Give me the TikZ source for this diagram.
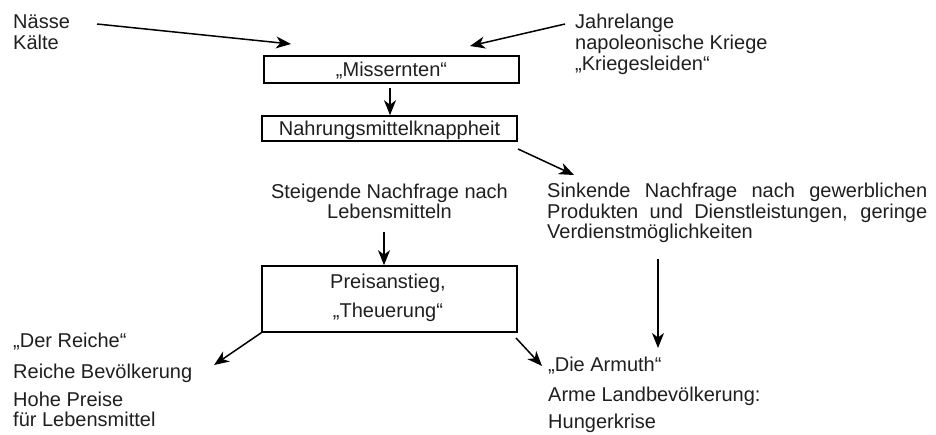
\documentclass[tikz,border=0pt]{standalone}
\usepackage{fontspec}
\setmainfont{Liberation Sans}
\usetikzlibrary{arrows.meta}
\begin{document}
\begin{tikzpicture}[x=1pt,y=-1pt,
  txt/.style={inner sep=0pt, text=black!88, font=\fontsize{20}{21}\selectfont},
  lft/.style={txt, anchor=base west},
  ctr/.style={txt, anchor=base},
  box/.style={draw, line width=1.6pt, inner sep=0pt, minimum width=255pt},
  arr/.style={line width=1.5pt, -{Stealth[length=15pt,width=12pt,inset=4.5pt]}}]
\useasboundingbox (0,0) rectangle (936,434);

% causes
\node[lft] (naesse) at (13,28) {Nässe};
\node[lft] (kaelte) at (13,49) {Kälte};
\node[lft] (jahr)   at (575,28) {Jahrelange};
\node[lft] (napo)   at (575,49) {napoleonische Kriege};
\node[lft] (kriegs) at (575,70) {„Kriegesleiden“};

% boxes
\node[box, txt, text height=20pt, text depth=7pt] (miss) at (391.5,69.5) {„Missernten“};
\node[box, txt, text height=19pt, text depth=6pt] (nahr) at (389.5,128.5) {Nahrungsmittelknappheit};
\node[box, minimum height=66pt] (preis) at (389.5,299) {};
\node[ctr] (preisA) at (388,288) {Preisanstieg,};
\node[ctr] (preisB) at (388,317) {„Theuerung“};

% middle texts
\node[ctr] (steig)  at (389.5,198) {Steigende Nachfrage nach};
\node[ctr] (lebens) at (389.5,218) {Lebensmitteln};
\node[lft] (sinkA) at (547,197) {\makebox[380pt][s]{Sinkende Nachfrage nach gewerblichen}};
\node[lft] (sinkB) at (547,218) {\makebox[380pt][s]{Produkten und Dienstleistungen, geringe}};
\node[lft] (sinkC) at (547,238) {Verdienstmöglichkeiten};

% consequences
\node[lft] (reichA) at (13,347) {„Der Reiche“};
\node[lft] (reichB) at (13,378) {Reiche Bevölkerung};
\node[lft] (reichC) at (13,406) {Hohe Preise};
\node[lft] (reichD) at (13,426) {für Lebensmittel};
\node[lft] (armA) at (548,371) {„Die Armuth“};
\node[lft] (armB) at (548,401) {Arme Landbevölkerung:};
\node[lft] (armC) at (548,428) {Hungerkrise};

% arrow end points
\coordinate (wetS)  at (97,24);
\coordinate (wetE)  at (291,44);
\coordinate (warS)  at (565,24);
\coordinate (warE)  at (470,46);
\coordinate (nahrS) at (518,149);
\coordinate (sinkE) at (574,175);
\coordinate (steigS) at (384,232);
\coordinate (verdS) at (658,259);
\coordinate (armE)  at (658,348);
\coordinate (reichE) at (214,365);
\coordinate (preisS) at (516,338);
\coordinate (armL)  at (542,366);

% connectors
\draw[arr] (wetS) -- (wetE);
\draw[arr] (warS) -- (warE);
\draw[arr] ([xshift=-1.5pt,yshift=-4pt]miss.south) -- ([xshift=0.5pt]nahr.north);
\draw[arr] (nahrS) -- (sinkE);
\draw[arr] (steigS) -- (steigS |- preis.north);
\draw[arr] (verdS) -- (armE);
\draw[arr] (preis.south west) -- (reichE);
\draw[arr] (preisS) -- (armL);
\end{tikzpicture}
\end{document}
